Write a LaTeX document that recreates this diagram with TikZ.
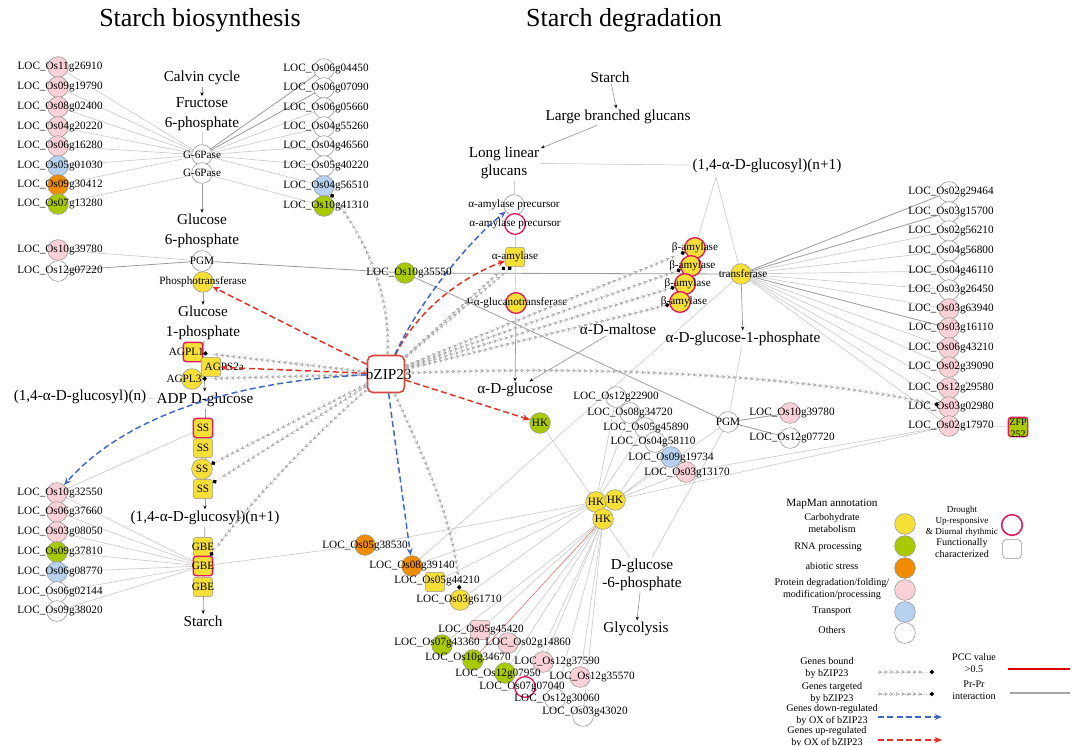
\documentclass[tikz,border=0pt]{standalone}
\usepackage{fontspec}
\setmainfont{Liberation Serif}
\usetikzlibrary{arrows.meta,decorations.markings,calc}
\pgfdeclarelayer{bgl}
\pgfdeclarelayer{fgl}
\pgfsetlayers{bgl,main,fgl}
\definecolor{cpink}{RGB}{249,209,214}
\definecolor{cyel}{RGB}{246,224,56}
\definecolor{cgrn}{RGB}{170,202,0}
\definecolor{corg}{RGB}{240,140,0}
\definecolor{cblu}{RGB}{182,210,240}
\definecolor{cdr}{RGB}{226,28,92}
\definecolor{cbz}{RGB}{214,72,60}
\definecolor{cred}{RGB}{228,48,36}
\definecolor{cblue}{RGB}{62,104,196}
\definecolor{cline}{RGB}{205,205,205}
\definecolor{cdark}{RGB}{155,155,155}
\definecolor{cbd}{RGB}{150,150,150}
\definecolor{cpcc}{RGB}{232,110,110}
\newcommand\fsm{\fontsize{8.4}{9}\selectfont}
\newcommand\fmd{\fontsize{11.4}{14.5}\selectfont}
\newcommand\fmdb{\fontsize{11.4}{13.5}\selectfont}
\newcommand\fttl{\fontsize{19.5}{22}\selectfont}
\newcommand\flg{\fontsize{7.6}{9}\selectfont}
\newcommand\fxs{\fontsize{6.8}{8.2}\selectfont}
\newcommand\gene[5]{\node[#2] (#1) at (#3) {};\begin{pgfonlayer}{fgl}\node[lbl] (#1t) at (#4) {LOC\_#5};\end{pgfonlayer}}
\tikzset{
 nd/.style={circle,draw=cbd,line width=0.4pt,minimum size=15.5pt,inner sep=0pt},
 sqn/.style={rectangle,rounded corners=2pt,draw=cbd,line width=0.4pt,minimum size=14.5pt,inner sep=0pt},
 pk/.style={fill=cpink}, yl/.style={fill=cyel}, gn/.style={fill=cgrn},
 og/.style={fill=corg}, bu/.style={fill=cblu}, wt/.style={fill=white},
 dro/.style={draw=cdr,line width=1pt},
 lbl/.style={font=\fsm,inner sep=0pt},
 midt/.style={font=\fmd,inner sep=1pt,align=center},
 lgt/.style={font=\flg,inner sep=0pt,align=center},
 ln/.style={draw=cline,line width=0.5pt},
 lnd/.style={draw=cdark,line width=0.6pt},
 pcc/.style={draw=cpcc,line width=0.45pt},
 flow/.style={draw=cdark,line width=0.5pt,-{Stealth[length=3pt,width=2.4pt,color=black]}},
 bnd/.style={draw=gray!50,line width=0.6pt,dash pattern=on 0.8pt off 1.2pt,
   postaction={decorate,decoration={markings,
     mark=between positions 3pt and -5pt step 4.3pt with {\arrow{Stealth[length=2.6pt,width=2.9pt,color=gray!65]}}}},
   -{Circle[length=3.2pt,color=black]}},
 tgt/.style={bnd,draw=gray!70},
 dn/.style={draw=cblue,line width=1.1pt,dash pattern=on 4.5pt off 2.5pt,-{Stealth[length=5.5pt,width=4.5pt]}},
 upr/.style={draw=cred,line width=1.1pt,dash pattern=on 4.5pt off 2.5pt,-{Stealth[length=5.5pt,width=4.5pt]}},
 bzs/.style={rectangle,rounded corners=4pt,draw=cbz,line width=1.2pt,fill=white,minimum size=27.75pt,inner sep=0pt}
}
\begin{document}
\begin{tikzpicture}[x=0.75pt,y=-0.75pt]
\useasboundingbox (0,0) rectangle (1076,746);
\begin{pgfonlayer}{bgl}\fill[white] (0,0) rectangle (1076,746);\end{pgfonlayer}

% titles
\node[font=\fttl] (ttl1) at (200,20) {Starch biosynthesis};
\node[font=\fttl] (ttl2) at (624,20) {Starch degradation};

% ---------- biosynthesis pathway
\node[midt] (tcal) at (202,78) {Calvin cycle};
\node[midt] (tf6p) at (202,114) {Fructose\\6-phosphate};
\node[nd,wt,label={[lbl]center:G-6Pase}] (g6a) at (202,155) {};
\node[nd,wt,label={[lbl]center:G-6Pase}] (g6b) at (202,173) {};
\node[midt] (tg6p) at (202,231) {Glucose\\6-phosphate};
\node[nd,wt,label={[lbl]center:PGM}] (pgma) at (202,261) {};
\node[nd,yl,label={[lbl]center:Phosphotransferase}] (phos) at (203,282) {};
\node[midt] (tg1p) at (203,323) {Glucose\\1-phosphate};
\node[sqn,yl,dro,label={[lbl,xshift=-5pt]center:AGPL1}] (agl1) at (193,352) {};
\node[sqn,yl,label={[lbl,xshift=10pt]center:AGPS2a}] (agps) at (211,367) {};
\node[nd,yl,label={[lbl,xshift=-6pt]center:AGPL3}] (agl3) at (192,379) {};
\node[midt] (tn) at (80,397) {(1,4-α-D-glucosyl)(n)};
\node[midt] (tadp) at (205,400) {ADP D-glucose};
\node[sqn,yl,dro,label={[lbl]center:SS}] (ss1) at (203,428) {};
\node[sqn,yl,label={[lbl]center:SS}] (ss2) at (203,448) {};
\node[nd,yl,label={[lbl]center:SS}] (ss3) at (202,469) {};
\node[sqn,yl,label={[lbl]center:SS}] (ss4) at (203,489) {};
\node[midt] (tn1) at (205,518) {(1,4-α-D-glucosyl)(n+1)};
\node[sqn,yl,label={[lbl]center:GBE}] (gbe1) at (203,547) {};
\node[sqn,yl,dro,label={[lbl]center:GBE}] (gbe2) at (203,566) {};
\node[sqn,yl,label={[lbl]center:GBE}] (gbe3) at (203,587) {};
\node[midt] (tst) at (203,621) {Starch};

% genes left
\gene{a1}{nd,pk}{58,67}{60,67}{Os11g26910}
\gene{a2}{nd,pk}{58,87}{60,87}{Os09g19790}
\gene{a3}{nd,pk}{58,107}{60,107}{Os08g02400}
\gene{a4}{nd,pk}{58,127}{60,127}{Os04g20220}
\gene{a5}{nd,pk}{58,146}{60,146}{Os06g16280}
\gene{a6}{nd,bu}{58,166}{60,166}{Os05g01030}
\gene{a7}{nd,og}{58,185}{60,185}{Os09g30412}
\gene{a8}{nd,gn}{58,204}{60,204}{Os07g13280}
\gene{r1}{nd,wt}{324,69}{326,69}{Os06g04450}
\gene{r2}{nd,wt}{324,88}{326,88}{Os06g07090}
\gene{r3}{nd,wt}{324,108}{326,108}{Os06g05660}
\gene{r4}{nd,wt}{324,127}{326,127}{Os04g55260}
\gene{r5}{nd,wt}{324,146}{326,146}{Os04g46560}
\gene{r6}{nd,wt}{324,166}{326,166}{Os05g40220}
\gene{r7}{nd,bu}{324,186}{326,186}{Os04g56510}
\gene{r8}{nd,gn}{324,206}{326,206}{Os10g41310}
\gene{p1}{nd,pk}{58,250}{60,250}{Os10g39780}
\gene{p2}{nd,wt}{58,271}{60,271}{Os12g07220}
\gene{s1}{nd,pk}{57,493}{60,493}{Os10g32550}
\gene{s2}{nd,pk}{57,512}{60,512}{Os06g37660}
\gene{s3}{nd,pk}{57,532}{60,532}{Os03g08050}
\gene{s4}{nd,gn}{57,552}{60,552}{Os09g37810}
\gene{s5}{nd,bu}{57,572}{60,572}{Os06g08770}
\gene{s6}{nd,wt}{57,592}{60,592}{Os06g02144}
\gene{s7}{nd,wt}{57,611}{60,611}{Os09g38020}

% centre genes
\gene{k1}{nd,gn}{405,273}{409,273}{Os10g35550}
\gene{c1}{nd,og}{365,545}{365,546}{Os05g38530}
\gene{c2}{nd,og}{412,566}{412,566}{Os08g39140}
\gene{c3}{sqn,yl}{435,582}{437,581}{Os05g44210}
\gene{c4}{nd,yl}{460,600}{459,600}{Os03g61710}

% bZIP23
\node[bzs,label={[font=\fmd,inner sep=0pt,xshift=2pt]center:bZIP23}] (bz) at (386,374) {};

% ---------- degradation pathway
\node[midt] (tst2) at (610,77) {Starch};
\node[midt] (tlbg) at (618,117) {Large branched glucans};
\node[midt,font=\fmdb] (tllg) at (504,163) {Long linear\\glucans};
\node[midt] (tgn1) at (767,166) {(1,4-α-D-glucosyl)(n+1)};
\coordinate (gn1b) at (716,177);
\node[nd,wt,label={[lbl]center:α-amylase precursor}] (ap1) at (514,205) {};
\node[nd,wt,dro,label={[lbl]center:α-amylase precursor}] (ap2) at (515,224) {};
\node[sqn,yl,label={[lbl]center:α-amylase}] (aam) at (515,257) {};
\node[nd,yl,dro,label={[lbl]center:4-α-glucanotransferase}] (gt) at (516,303) {};
\node[midt] (tmal) at (618,329) {α-D-maltose};
\node[midt] (taglc) at (515,390) {α-D-glucose};
\node[nd,yl,dro,label={[lbl]center:β-amylase}] (ba1) at (695,248) {};
\node[nd,yl,dro,label={[lbl,xshift=1pt]center:β-amylase}] (ba2) at (691,266) {};
\node[nd,yl,dro,label={[lbl,xshift=2pt]center:β-amylase}] (ba3) at (685,284) {};
\node[nd,yl,dro,label={[lbl,xshift=3pt]center:β-amylase}] (ba4) at (680,302) {};
\node[nd,yl,label={[lbl,xshift=1.5pt]center:transferase}] (tr) at (741,274) {};
\node[midt] (tg1p2) at (743,339) {α-D-glucose-1-phosphate};
\node[nd,wt,label={[lbl]center:PGM}] (pgmb) at (728,422) {};
\node[nd,gn,label={[lbl]center:HK}] (hkg) at (540,423) {};
\node[nd,yl,label={[lbl]center:HK}] (hk1) at (596,502) {};
\node[nd,yl,label={[lbl]center:HK}] (hk2) at (615,500) {};
\node[nd,yl,label={[lbl]center:HK}] (hk3) at (603,519) {};
\node[midt,font=\fmdb] (tdg) at (642,575) {D-glucose\\-6-phosphate};
\node[midt] (tgly) at (636,629) {Glycolysis};

\gene{m1}{nd,wt}{616,397}{616,397}{Os12g22900}
\gene{m2}{nd,wt}{630,413}{630,413}{Os08g34720}
\gene{m3}{nd,wt}{645,428}{646,428}{Os05g45890}
\gene{m4}{nd,wt}{655,442}{653,442}{Os04g58110}
\gene{m5}{nd,bu}{671,457}{671,458}{Os09g19734}
\gene{m6}{nd,pk}{686,472}{687,473}{Os03g13170}
\gene{q1}{nd,pk}{790,413}{792,413}{Os10g39780}
\gene{q2}{nd,wt}{790,438}{792,438}{Os12g07720}

\gene{b1}{sqn,pk}{480,630}{481,630}{Os05g45420}
\gene{b2}{nd,gn}{442,645}{437,643}{Os07g43360}
\gene{b3}{nd,pk}{508,643}{528,643}{Os02g14860}
\gene{b4}{nd,gn}{473,660}{468,658}{Os10g34670}
\gene{b5}{nd,pk}{543,662}{557,662}{Os12g37590}
\gene{b6}{nd,gn}{505,673}{498,674}{Os12g07950}
\gene{b7}{nd,pk}{580,677}{592,677}{Os12g35570}
\gene{b8}{nd,wt,dro}{525,687}{522,687}{Os07g07040}
\gene{b9}{nd,wt}{555,699}{557,699}{Os12g30060}
\gene{b10}{nd,wt}{583,716}{585,712}{Os03g43020}

\gene{w1}{nd,wt}{949,192}{951,192}{Os02g29464}
\gene{w2}{nd,wt}{949,212}{951,212}{Os03g15700}
\gene{w3}{nd,wt}{949,231}{951,231}{Os02g56210}
\gene{w4}{nd,wt}{949,251}{951,251}{Os04g56800}
\gene{w5}{nd,wt}{949,271}{951,271}{Os04g46110}
\gene{w6}{nd,wt}{949,290}{951,290}{Os03g26450}
\gene{w7}{nd,pk}{949,309}{951,309}{Os03g63940}
\gene{w8}{nd,pk}{949,328}{951,328}{Os03g16110}
\gene{w9}{nd,pk}{949,348}{951,348}{Os06g43210}
\gene{w10}{nd,pk}{949,367}{951,367}{Os02g39090}
\gene{w11}{nd,pk}{949,388}{951,388}{Os12g29580}
\gene{w12}{nd,pk}{949,407}{951,407}{Os03g02980}
\gene{w13}{nd,pk}{949,426}{951,426}{Os02g17970}
\node[sqn,gn,dro] (zfp) at (1018,427) {};
\node[font=\fontsize{7.5}{9}\selectfont,align=center,inner sep=0pt] (zfpt) at (1018,428) {ZFP\\252};

% ---------- edges (background)
\begin{pgfonlayer}{bgl}
\foreach \i in {1,...,7} \draw[ln] (a\i) -- (g6a);
\draw[ln] (a8) -- (g6b);
\foreach \i in {3,...,7} \draw[ln] (r\i) -- (g6a);
\draw[lnd] (r1) -- (g6a);
\draw[lnd] (r2) -- (g6a);
\draw[ln] (r8) -- (g6b);
\draw[ln] (p1) -- (pgma);
\draw[lnd] (p2) -- (pgma);
\draw[lnd] (pgma) -- (k1);
\draw[lnd] (k1) -- (tr);
\draw[draw=gray!75,line width=0.6pt] (k1) -- (pgmb);
\foreach \i in {1,...,7} \draw[ln] (s\i) -- (gbe2);
\draw[ln] (s1) -- (ss1);
\draw[ln] (gbe2) -- (c1);
\foreach \i in {1,...,4} \draw[ln] (c\i) -- (hk1);
\draw[ln] (c2) -- (tr);
\draw[ln] (hkg) -- (hk1);
\foreach \i in {1,2,3} \draw[ln] (m\i) -- (hk1);
\foreach \i in {4,5,6} \draw[ln] (m\i) -- (hk2);
\draw[ln] (m6) -- (w13);
\draw[ln] (hk2) -- (w13);
\foreach \i in {1,2,3,5,6,7,8,9,10} \draw[ln] (b\i) -- (hk3);
\draw[pcc] (b4) -- (hk3);
\foreach \i in {3,...,7,9,10,11,12,13} \draw[ln] (w\i) -- (tr);
\draw[lnd] (w1) -- (tr);
\draw[lnd] (w2) -- (tr);
\draw[lnd] (w8) -- (tr);
\draw[ln] (w13) -- (zfp);
\draw[lnd] (q1) -- (pgmb);
\draw[lnd] (q2) -- (pgmb);
\draw[ln] (pgmb) -- (hk2);
\draw[ln] (pgmb) -- (tdg);
\draw[ln] (hk3) -- (tdg);
\draw[ln] (gn1b) -- (ba1);
\draw[ln] (gn1b) -- (tr);
% pathway
\draw[flow] (tcal) -- (tf6p);
\draw[ln] (tf6p) -- (g6a);
\draw[flow] (g6b) -- (tg6p);
\draw[ln] (tg6p) -- (pgma);
\draw[flow] (phos) -- (tg1p);
\draw[flow] (tg1p) -- (tadp);
\draw[ln] (tn) -- (tadp);
\draw[flow] (tadp) -- (tn1);
\draw[flow] (tn1) -- (tst);
\draw[flow] (tst2) -- (tlbg);
\draw[flow] (tlbg) -- (tllg);
\draw[ln] (tllg) -- (tgn1);
\draw[ln] (ap1 |- tllg.south) -- (ap1);
\draw[ln] (ap2) -- (aam);
\draw[ln] (aam) -- (gt);
\draw[flow] (gt) -- (taglc);
\draw[flow] (tmal) -- (taglc);
\draw[flow] (tr) -- (tg1p2);
\draw[ln] (tg1p2) -- (pgmb);
\draw[flow] (tdg) -- (tgly);
\end{pgfonlayer}

% ---------- regulation by bZIP23
\draw[bnd] (bz) .. controls (392,290) and (360,230) .. (r7);
\draw[bnd] (bz) -- (agl1);
\draw[bnd] (bz) -- (agl3);
\draw[bnd] (bz) -- (ss3);
\draw[bnd] (bz) -- (ss4);
\draw[bnd] (bz) .. controls (330,420) and (250,500) .. (gbe2);
\draw[bnd] (bz) .. controls (420,450) and (455,520) .. (c4);
\draw[bnd] (bz) -- (aam.south west);
\draw[bnd] (bz) -- (aam.250);
\foreach \i in {1,...,4} \draw[bnd] (bz) -- (ba\i);
\draw[bnd] (bz) .. controls (600,365) and (800,375) .. (w12);
\draw[upr] (bz) -- (phos);
\draw[upr] (bz) -- (agps);
\draw[upr] (bz) .. controls (415,315) and (455,280) .. (aam);
\draw[upr] (bz) -- (hkg);
\draw[dn] (bz) .. controls (420,300) and (470,240) .. (ap1);
\draw[dn] (bz) .. controls (250,380) and (130,410) .. (s1);
\draw[dn] (bz) -- (c2);

% ---------- legend
\node[font=\fsm,inner sep=0pt] (lgh) at (832,504) {MapMan annotation};
\node[lgt] (lgt1) at (832,523) {Carbohydrate\\metabolism};
\node[nd,yl] (lgc1) at (905,524) {};
\node[lgt] (lgt2) at (828,547) {RNA processing};
\node[nd,gn] (lgc2) at (905,546) {};
\node[lgt] (lgt3) at (832,566) {abiotic stress};
\node[nd,og] (lgc3) at (905,568) {};
\node[lgt] (lgt4) at (832,589) {Protein degradation/folding/\\modification/processing};
\node[nd,pk] (lgc4) at (905,590) {};
\node[lgt] (lgt5) at (832,611) {Transport};
\node[nd,bu] (lgc5) at (905,612) {};
\node[lgt] (lgt6) at (832,630) {Others};
\node[nd,wt] (lgc6) at (905,633) {};
\node[font=\fxs,align=center,inner sep=0pt] (lgt7) at (962,521) {Drought\\Up-responsive\\\& Diurnal rhythmic};
\node[nd,fill=white,draw=cdr,line width=1.2pt] (lgd) at (1012,525) {};
\node[lgt] (lgt8) at (962,548) {Functionally\\characterized};
\node[sqn,wt,minimum size=14pt,rounded corners=2.5pt] (lgf) at (1012,549) {};
\node[lgt] (lgt9) at (827,668) {Genes bound\\by bZIP23};
\node[lgt] (lgt10) at (832,693) {Genes targeted\\by bZIP23};
\node[lgt] (lgt11) at (832,715) {Genes down-regulated\\by OX of bZIP23};
\node[lgt] (lgt12) at (827,737) {Genes up-regulated\\by OX of bZIP23};
\node[lgt] (lgt13) at (974,663) {PCC value\\>0.5};
\node[lgt] (lgt14) at (974,690) {Pr-Pr\\interaction};
\coordinate (lb1a) at (878,672); \coordinate (lb1b) at (934,672);
\coordinate (lb2a) at (878,694); \coordinate (lb2b) at (934,694);
\coordinate (lb3a) at (878,717); \coordinate (lb3b) at (942,717);
\coordinate (lb4a) at (878,740); \coordinate (lb4b) at (942,740);
\coordinate (lb5a) at (1008,669); \coordinate (lb5b) at (1070,669);
\coordinate (lb6a) at (1010,693); \coordinate (lb6b) at (1070,693);
\draw[bnd] (lb1a) -- (lb1b);
\draw[tgt] (lb2a) -- (lb2b);
\draw[dn] (lb3a) -- (lb3b);
\draw[upr] (lb4a) -- (lb4b);
\draw[draw=red!85!black,line width=0.8pt] (lb5a) -- (lb5b);
\draw[draw=gray!70,line width=0.8pt] (lb6a) -- (lb6b);
\end{tikzpicture}
\end{document}
